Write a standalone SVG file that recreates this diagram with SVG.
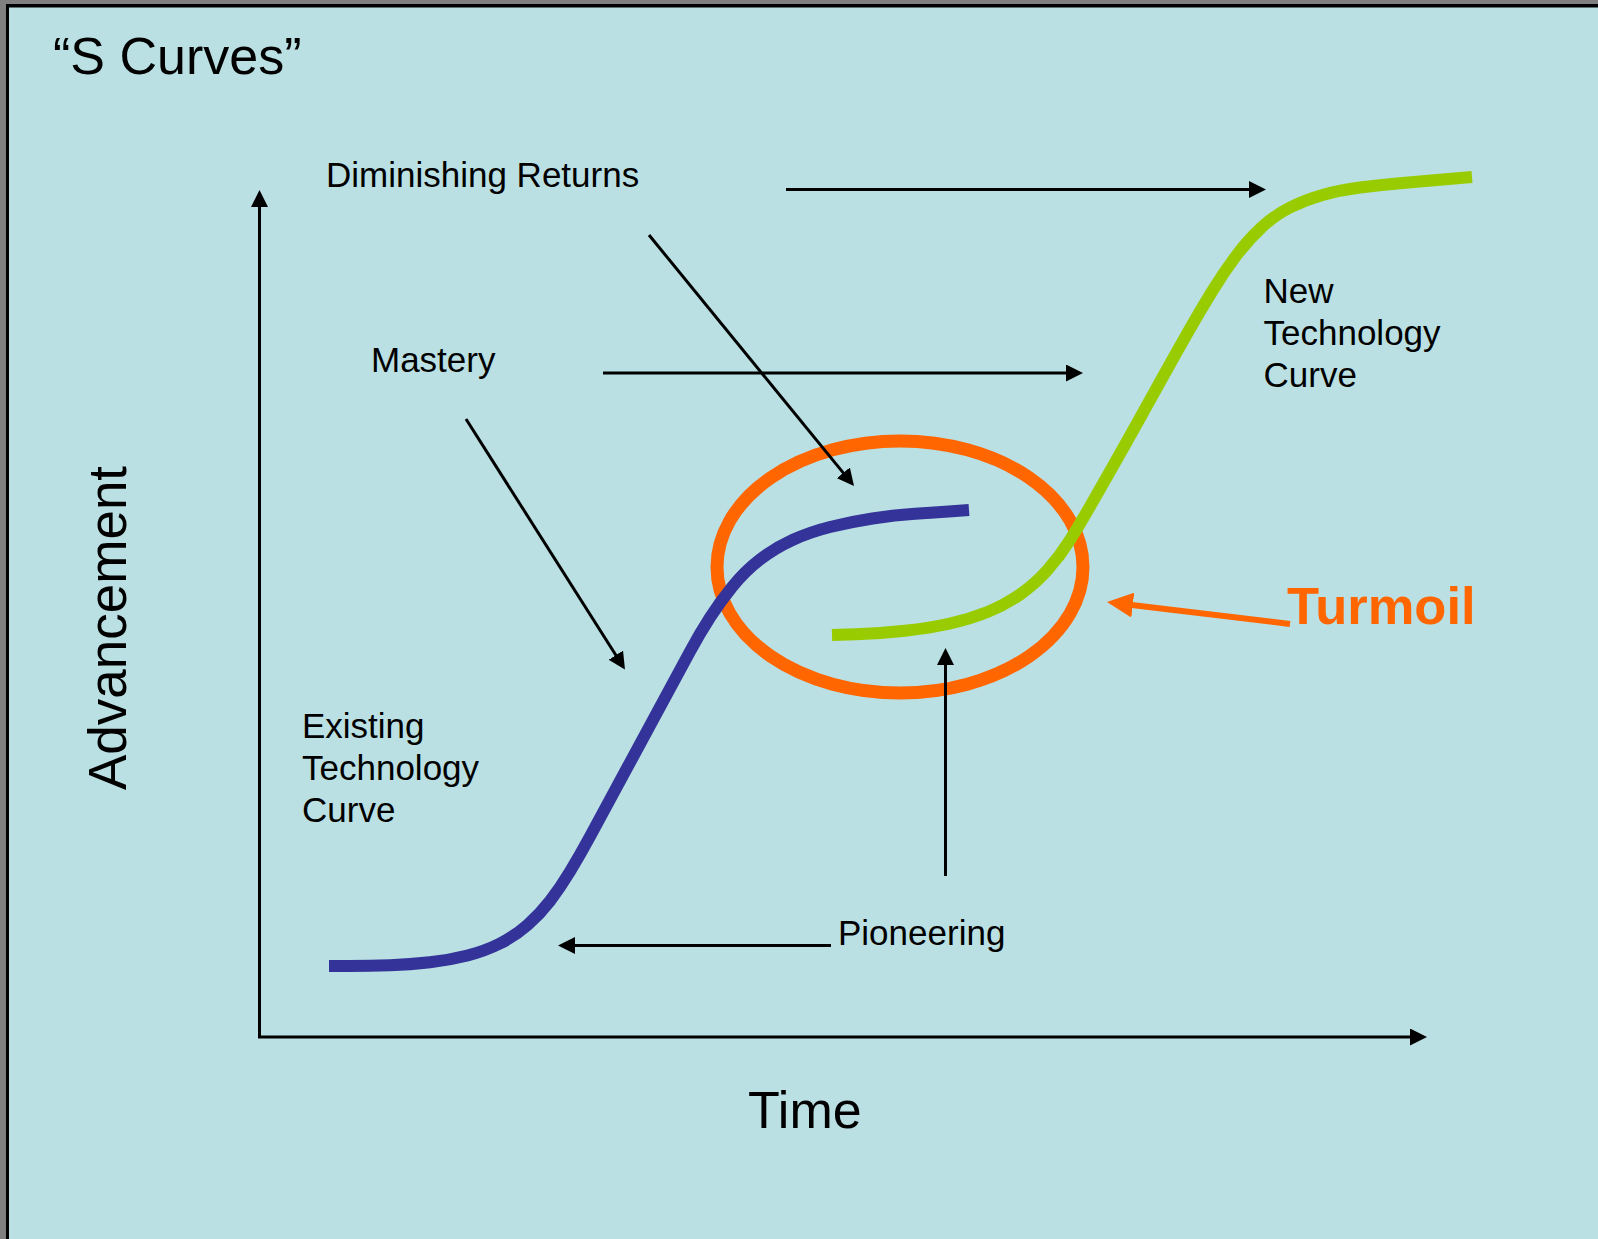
<svg xmlns="http://www.w3.org/2000/svg" width="1598" height="1239" viewBox="0 0 1598 1239">
  <style>
    .lbl { font-family: "Liberation Sans", Arial, sans-serif; font-size: 35px; fill: #000; }
    .big { font-family: "Liberation Sans", Arial, sans-serif; font-size: 52px; fill: #000; }
    .conn { stroke: #000; stroke-width: 3; fill: none; marker-end: url(#ah); }
    .curve { fill: none; stroke-width: 12; stroke-linecap: butt; stroke-linejoin: round; }
  </style>
  <defs>
    <marker id="ah" markerUnits="userSpaceOnUse" markerWidth="17" markerHeight="17" viewBox="0 0 17 17" refX="1" refY="8.5" orient="auto">
      <path d="M0,0 L17,8.5 L0,17 Z" fill="#000"/>
    </marker>
    <marker id="ahO" markerUnits="userSpaceOnUse" markerWidth="26" markerHeight="25" viewBox="0 0 26 25" refX="1" refY="12.5" orient="auto">
      <path d="M0,0 L26,12.5 L0,25 Z" fill="#FF6600"/>
    </marker>
  </defs>

  <g id="background">
    <rect x="0" y="0" width="1598" height="1239" fill="#808080"/>
    <rect x="6" y="4" width="1592" height="1235" fill="#000"/>
    <rect x="9" y="7.5" width="1589" height="1232" fill="#BAE0E3"/>
  </g>

  <g id="title">
    <text class="big" x="53" y="74">“S Curves”</text>
  </g>

  <g id="turmoil-ellipse">
    <ellipse cx="900" cy="567" rx="183" ry="126" fill="none" stroke="#FF6600" stroke-width="13"/>
  </g>

  <g id="existing-curve">
    <path class="curve" stroke="#333399" d="M329,966 L349.5,966 Q370,966 390,965.25 Q410,964.5 430,962.25 Q450,960 467.5,955.5 Q485,951 500,943.5 Q515,936 527.5,925 Q540,914 550,901 Q560,888 570,871.5 Q580,855 590,836.5 Q600,818 610,799.5 Q620,781 630,762.5 Q640,744 650,725.5 Q660,707 670,688.5 Q680,670 690,651.5 Q700,633 710,617.5 Q720,602 732.5,586.5 Q745,571 760,559.5 Q775,548 792.5,540 Q810,532 830,527 Q850,522 872.5,518.5 Q895,515 915,513.75 Q935,512.5 952,511.25 L969,510"/>
  </g>

  <g id="new-curve">
    <path class="curve" stroke="#99CC00" d="M832,635 L856,634.25 Q880,633.5 905,630.75 Q930,628 950,623.5 Q970,619 987.5,612 Q1005,605 1020,594.5 Q1035,584 1047.5,570 Q1060,556 1070,540 Q1080,524 1090,506.5 Q1100,489 1112.5,467 Q1125,445 1137.5,422.5 Q1150,400 1162.5,377.5 Q1175,355 1187.5,333 Q1200,311 1212,291.5 Q1224,272 1236,256 Q1248,240 1261.5,227.5 Q1275,215 1290,207.5 Q1305,200 1322.5,195 Q1340,190 1360,187.5 Q1380,185 1402.5,183 Q1425,181 1448.5,179 L1472,177"/>
  </g>

  <g id="connectors">
    <line class="conn" x1="259.5" y1="1037" x2="259.5" y2="206"/>
    <line class="conn" x1="258" y1="1037" x2="1411" y2="1037"/>
    <line class="conn" x1="786" y1="189.5" x2="1250" y2="189.5"/>
    <line class="conn" x1="649" y1="235" x2="843.9" y2="473.6"/>
    <line class="conn" x1="603" y1="373" x2="1067" y2="373"/>
    <line class="conn" x1="466" y1="419" x2="616.4" y2="656"/>
    <line class="conn" x1="945.5" y1="876" x2="945.5" y2="664"/>
    <line class="conn" x1="831" y1="945.5" x2="574" y2="945.5"/>
    <line x1="1290" y1="624" x2="1131.8" y2="605" stroke="#FF6600" stroke-width="6" marker-end="url(#ahO)"/>
  </g>

  <g id="label-diminishing">
    <text class="lbl" x="326" y="187">Diminishing Returns</text>
  </g>
  <g id="label-mastery">
    <text class="lbl" x="371" y="372">Mastery</text>
  </g>
  <g id="label-new">
    <text class="lbl" x="1263.5" y="303">New</text>
    <text class="lbl" x="1263.5" y="345">Technology</text>
    <text class="lbl" x="1263.5" y="387">Curve</text>
  </g>
  <g id="label-existing">
    <text class="lbl" x="302" y="737.5">Existing</text>
    <text class="lbl" x="302" y="779.5">Technology</text>
    <text class="lbl" x="302" y="821.5">Curve</text>
  </g>
  <g id="label-pioneering">
    <text class="lbl" x="838" y="945">Pioneering</text>
  </g>
  <g id="label-turmoil">
    <text x="1287" y="624" font-family="Liberation Sans, Arial, sans-serif" font-size="52.5" font-weight="bold" fill="#FF6600">Turmoil</text>
  </g>
  <g id="axis-labels">
    <text class="big" x="748" y="1128">Time</text>
    <text class="big" style="font-size:53px" transform="translate(126,790) rotate(-90)" x="0" y="0">Advancement</text>
  </g>
</svg>
